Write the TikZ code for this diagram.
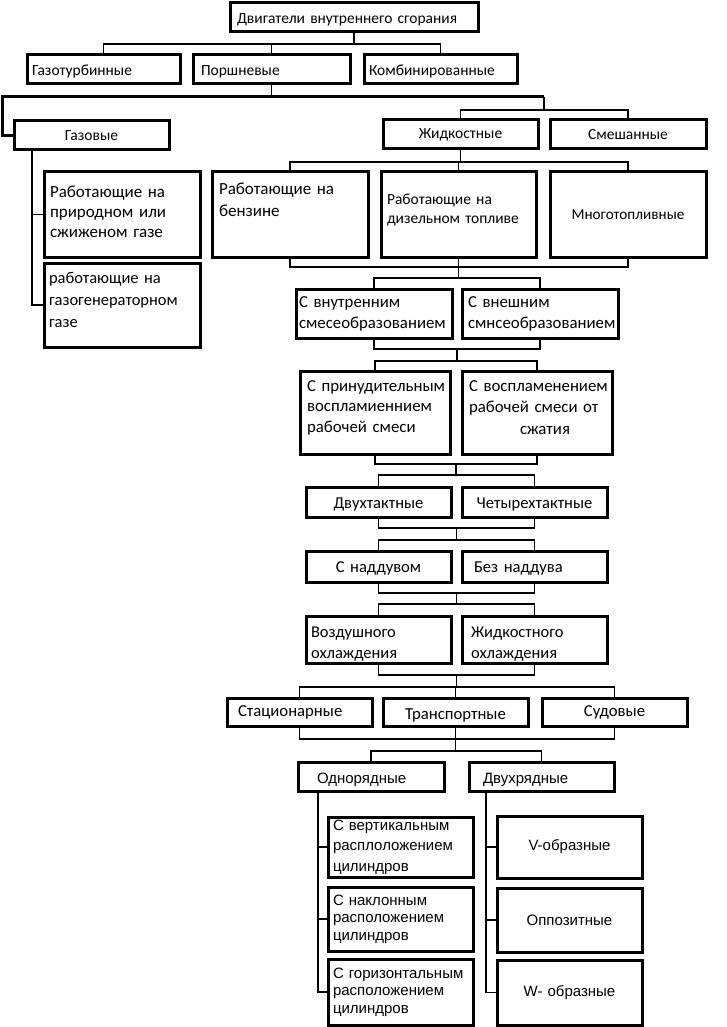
\documentclass[tikz,border=0pt]{standalone}
\usepackage{fontspec}
\setmainfont{Carlito}
\newfontfamily\arialf{Liberation Sans}
\usetikzlibrary{calc}
\tikzset{
  box/.style={draw, line width=3pt, inner ysep=0pt, outer sep=0pt},
  conn/.style={line width=1.5pt},
  busline/.style={line width=3pt},
}
\newcommand\fs[2]{\fontsize{#1}{#2}\selectfont}
\newcommand\bx[8]{%
  \pgfmathsetmacro\bxw{#4-#2}\pgfmathsetmacro\bxh{#5-#3}\pgfmathsetmacro\bxt{#4-#2-2*#7}%
  \node[box,minimum width=\bxw pt,minimum height=\bxh pt,text width=\bxt pt,inner xsep=#7pt,#6] (#1) at ({(#2+#4)/2},{(#3+#5)/2}) {#8};}
\begin{document}
\begin{tikzpicture}[x=1pt,y=-1pt]
\fill[white] (0,0) rectangle (727,1027);
\useasboundingbox (0,0) rectangle (727,1027);
% boxes
\bx{top}{230}{3}{478}{32}{align=left,font=\fs{15.5}{19},text height=14.6pt}{7}{Двигатели~внутреннего~сгорания}
\bx{gt}{27}{55}{180}{84}{align=left,font=\fs{15.5}{19},text height=15.5pt}{5}{Газотурбинные}
\bx{porsh}{193}{55}{350}{84}{align=left,font=\fs{15.5}{19},text height=15.5pt}{8}{Поршневые}
\bx{komb}{364}{55}{517}{84}{align=left,font=\fs{15.5}{19},text height=15.5pt}{5}{Комбинированные}
\bx{gaz}{14}{121}{169}{150}{align=center,font=\fs{15.5}{19}}{3}{Газовые}
\bx{zhid}{383}{120}{538}{149}{align=center,font=\fs{15.5}{19}}{3}{Жидкостные}
\bx{smesh}{550}{120}{706}{149}{align=center,font=\fs{15.5}{19}}{3}{Смешанные}
\bx{prir}{44}{172}{200}{257}{align=left,font=\fs{17}{20},text depth=46pt}{6}{Работающие~на\\природном~или\\сжиженом~газе}
\bx{benz}{212}{172}{368}{257}{align=left,font=\fs{17}{22},text depth=51pt}{7}{Работающие~на\\бензине}
\bx{dizel}{381}{172}{536}{257}{align=left,font=\fs{15.5}{19.5},text depth=31pt}{6}{Работающие~на\\дизельном~топливе}
\bx{mnogo}{550}{172}{706}{257}{align=center,font=\fs{15.2}{19}}{3}{Многотопливные}
\bx{gazogen}{44}{263}{200}{347}{align=left,font=\fs{16.5}{22},text depth=54pt}{5}{работающие~на\\газогенераторном\\газе}
\bx{vnutr}{296}{289}{452}{338}{align=left,font=\fs{16.8}{21}}{3}{С~внутренним\\смесеобразованием}
\bx{vnesh}{462}{289}{618}{338}{align=left,font=\fs{16.8}{21}}{6}{С~внешним\\смнсеобразованием}
\bx{prinud}{300}{371}{450}{454}{align=left,font=\fs{16.8}{20.5},text depth=53pt}{7}{С~принудительным\\воспламиеннием\\рабочей~смеси}
\bx{vospl}{462}{371}{612}{454}{align=left,font=\fs{16.8}{21.5},text depth=53pt}{7}{С~воспламенением\\рабочей~смеси~от\\\hspace*{51pt}сжатия}
\bx{dvuh}{306}{487}{451}{517}{align=center,font=\fs{16.6}{20},text height=15.5pt}{3}{Двухтактные}
\bx{chetyr}{462}{487}{607}{517}{align=center,font=\fs{16.6}{20},text height=15.5pt}{3}{Четырехтактные}
\bx{nadd}{306}{551}{451}{582}{align=center,font=\fs{16.6}{20},text height=15.5pt}{3}{С~наддувом}
\bx{bez}{462}{551}{607}{582}{align=left,font=\fs{16.6}{20},text height=15.5pt}{12}{Без~наддува}
\bx{vozd}{306}{616}{451}{663}{align=left,font=\fs{16.5}{21},text height=19pt}{5}{Воздушного\\охлаждения}
\bx{zhidohl}{462}{616}{607}{663}{align=left,font=\fs{16.5}{21},text height=19pt}{9}{Жидкостного\\охлаждения}
\bx{stac}{227}{698}{372}{726}{align=left,font=\fs{16.7}{20}}{11}{Стационарные}
\bx{trans}{383}{698}{528}{726}{align=center,font=\fs{16.7}{20},text height=16.8pt}{3}{Транспортные}
\bx{sud}{542}{698}{687}{726}{align=center,font=\fs{16.7}{20}}{3}{Судовые}
\bx{odno}{298}{762}{444}{791}{align=left,font=\arialf\fs{15}{19},text height=16.7pt}{19}{Однорядные}
\bx{dvuhr}{469}{762}{614}{791}{align=left,font=\arialf\fs{15}{19},text height=16.7pt}{14}{Двухрядные}
\bx{vert}{328}{817}{473}{877}{align=left,font=\arialf\fs{15}{20.5}}{5}{С~вертикальным\\расплоложением\\цилиндров}
\bx{nakl}{328}{887}{473}{951}{align=left,font=\arialf\fs{15}{17.5}}{5}{С~наклонным\\расположением\\цилиндров}
\bx{gor}{328}{959}{473}{1025}{align=left,font=\arialf\fs{15}{17.5}}{5}{С~горизонтальным\\расположением\\цилиндров}
\bx{vobr}{497}{816}{642}{878}{align=center,font=\arialf\fs{15}{19}}{3}{V-образные}
\bx{oppoz}{497}{888}{642}{952}{align=center,font=\arialf\fs{15}{19}}{3}{Оппозитные}
\bx{wobr}{497}{960}{642}{1025}{align=center,font=\arialf\fs{15}{19}}{3}{W-~образные}
% connectors
\draw[conn] (top.south) -- ++(0,12);
\draw[conn] (gt.north) -- ++(0,-11) -| (komb.north);
\draw[conn] (porsh.north) -- ++(0,-11);
\draw[conn] (porsh.south) -- ++(0,13);
\coordinate (busL) at (2,97);
\coordinate (busR) at (544,97);
\draw[busline] (gaz.west) -| (busL) -- (busR);
\draw[conn] (busR) -- ++(0,13);
\draw[conn] (zhid.north) -- ++(0,-10) -| (smesh.north);
\draw[conn] (zhid.south) -- ++(0,13);
\draw[conn] (benz.north) -- ++(0,-10) -| (mnogo.north);
\draw[conn] (dizel.north) -- ++(0,-10);
\draw[conn] (benz.south) -- ++(0,10) -| (mnogo.south);
\draw[conn] (dizel.south) -- ++(0,21);
\draw[conn] (vnutr.north) -- ++(0,-11) -| (vnesh.north);
\draw[conn] (vnutr.south) -- ++(0,11) -| (vnesh.south);
\draw[conn] ($(vnutr.south)!.5!(vnesh.south)+(0,11)$) -- ++(0,12);
\draw[conn] (prinud.north) -- ++(0,-10) -| (vospl.north);
\draw[conn] (prinud.south) -- ++(0,10) -| (vospl.south);
\draw[conn] ($(prinud.south)!.5!(vospl.south)+(0,10)$) -- ++(0,11);
\draw[conn] (dvuh.north) -- ++(0,-12) -| (chetyr.north);
\draw[conn] (dvuh.south) -- ++(0,11) -| (chetyr.south);
\draw[conn] ($(dvuh.south)!.5!(chetyr.south)+(0,11)$) -- ++(0,12);
\draw[conn] (nadd.north) -- ++(0,-11) -| (bez.north);
\draw[conn] (nadd.south) -- ++(0,11) -| (bez.south);
\draw[conn] ($(nadd.south)!.5!(bez.south)+(0,11)$) -- ++(0,12);
\draw[conn] (vozd.north) -- ++(0,-12) -| (zhidohl.north);
\draw[conn] (vozd.south) -- ++(0,12) -| (zhidohl.south);
\draw[conn] ($(vozd.south)!.5!(zhidohl.south)+(0,12)$) -- ++(0,11);
\draw[conn] (stac.north) -- ++(0,-11) -| (sud.north);
\draw[conn] (trans.north) -- ++(0,-11);
\draw[conn] (stac.south) -- ++(0,13) -| (sud.south);
\draw[conn] (trans.south) -- ++(0,25);
\draw[conn] (odno.north) -- ++(0,-11) -| (dvuhr.north);
\draw[conn] ([xshift=20pt]odno.south west) |- (gor.west);
\draw[conn] (vert.west) -- ++(-10,0);
\draw[conn] (nakl.west) -- ++(-10,0);
\draw[conn] ([xshift=17pt]dvuhr.south west) |- (wobr.west);
\draw[conn] (vobr.west) -- ++(-11,0);
\draw[conn] (oppoz.west) -- ++(-11,0);
\draw[conn] ([xshift=18pt]gaz.south west) |- (gazogen.west);
\draw[conn] (prir.west) -- ++(-12,0);
\end{tikzpicture}
\end{document}
